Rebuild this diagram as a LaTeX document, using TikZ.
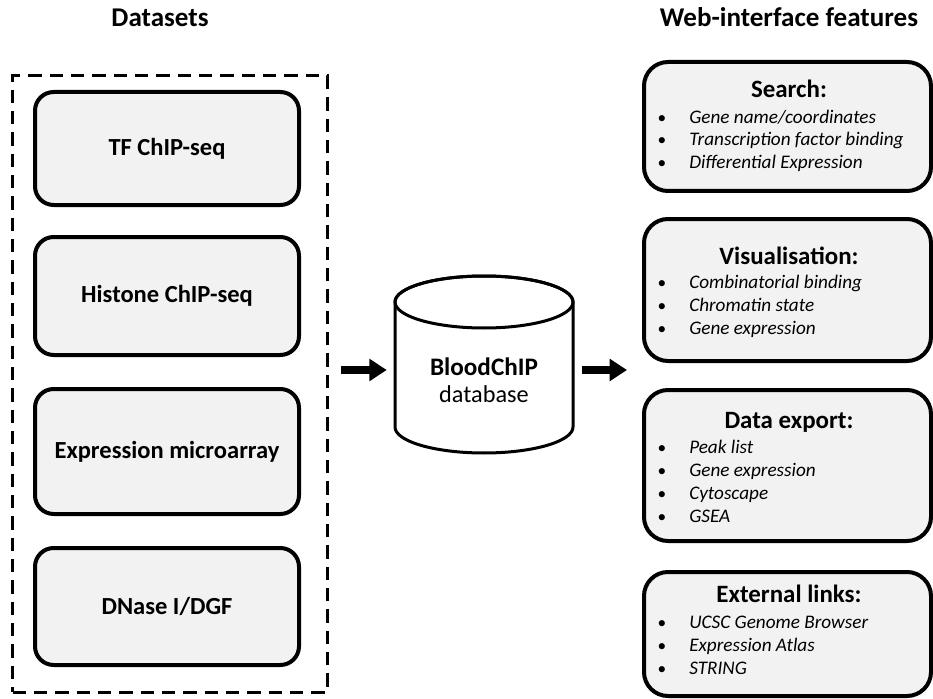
\documentclass[tikz,border=0pt]{standalone}
\usepackage{fontspec}
\setmainfont{Carlito}
\usetikzlibrary{arrows.meta}
\definecolor{boxgray}{HTML}{F2F2F2}
\begin{document}
\begin{tikzpicture}[x=0.75pt,y=-0.75pt,
  lbox/.style={draw=black,line width=3pt,fill=boxgray,rounded corners=14pt,inner sep=0pt,minimum width=198pt,font=\fontsize{18.4}{21}\selectfont\bfseries},
  rbox/.style={draw=black,line width=3pt,fill=boxgray,rounded corners=18pt,inner sep=0pt,minimum width=215.25pt},
  ttl/.style={anchor=base,inner sep=0pt,font=\fontsize{18.7}{21}\selectfont\bfseries},
  itm/.style={anchor=base west,inner sep=0pt,font=\fontsize{14.4}{16}\selectfont\itshape},
  bul/.style={anchor=base,inner sep=0pt,font=\fontsize{13}{16}\selectfont},
  hdr/.style={anchor=base,inner sep=0pt,font=\fontsize{20.3}{23}\selectfont\bfseries},
  cyl/.style={draw=black,line width=2.25pt},
  bigarrow/.style={line width=6pt,-{Triangle[length=13pt,width=16pt]}}
]
\useasboundingbox (0,0) rectangle (933,699);
\fill[white] (0,0) rectangle (933,699);

% headers
\node[hdr] (h1) at (160,27) {Datasets};
\node[hdr] (h2) at (789,27) {Web-interface features};

% datasets group
\node[draw=black,line width=2.25pt,dash pattern=on 10pt off 6pt,inner sep=0pt,
      minimum width=235.9pt,minimum height=462pt] (datasets) at (170,384) {};
\node[lbox,minimum height=84.75pt] (tf) at (167,148.5) {TF ChIP-seq};
\node[lbox,minimum height=88.5pt] (hist) at (167,296) {Histone ChIP-seq};
\node[lbox,minimum height=93.75pt] (expr) at (167,451.5) {Expression microarray};
\node[lbox,minimum height=87.75pt] (dnase) at (167,606.5) {DNase I/DGF};

% database cylinder
\draw[cyl,fill=white] (395,302) -- (395,427)
  arc[start angle=180,end angle=360,x radius=66.75pt,y radius=19.5pt]
  -- (573,302)
  arc[start angle=0,end angle=180,x radius=66.75pt,y radius=19.5pt] -- cycle;
\draw[cyl] (484,302) ellipse[x radius=66.75pt,y radius=19.5pt];
\node[minimum width=133.5pt,minimum height=60pt,inner sep=0pt] (db) at (484,370) {};
\node[anchor=base,inner sep=0pt,font=\fontsize{18.9}{21}\selectfont\bfseries] (dbt) at (484,375) {BloodChIP};
\node[anchor=base,inner sep=0pt,font=\fontsize{18.2}{21}\selectfont] (dbs) at (484,402) {database};

% feature boxes
\node[rbox,minimum height=96.75pt] (search) at (787.5,126.5) {};
\node[rbox,minimum height=106.5pt] (vis) at (787.5,290) {};
\node[rbox,minimum height=113.25pt] (export) at (787.5,465.5) {};
\node[rbox,minimum height=93pt] (links) at (787.5,634) {};

\node[ttl] (t1) at (789,98) {Search:};
\foreach \t [count=\i] in {Gene name/coordinates,Transcription factor binding,Differential Expression}{
  \node[bul] (sb\i) at (662,{123+23*(\i-1)}) {\textbullet};
  \node[itm] (si\i) at (689,{123+23*(\i-1)}) {\t};
}
\node[ttl] (t2) at (789,264) {Visualisation:};
\foreach \t [count=\i] in {Combinatorial binding,Chromatin state,Gene expression}{
  \node[bul] (vb\i) at (662,{288+23*(\i-1)}) {\textbullet};
  \node[itm] (vi\i) at (689,{288+23*(\i-1)}) {\t};
}
\node[ttl] (t3) at (789,428) {Data export:};
\foreach \t [count=\i] in {Peak list,Gene expression,Cytoscape,GSEA}{
  \node[bul] (eb\i) at (662,{453+23*(\i-1)}) {\textbullet};
  \node[itm] (ei\i) at (689,{453+23*(\i-1)}) {\t};
}
\node[ttl] (t4) at (789,602) {External links:};
\foreach \t [count=\i] in {UCSC Genome Browser,Expression Atlas,STRING}{
  \node[bul] (lb\i) at (662,{628+23*(\i-1)}) {\textbullet};
  \node[itm] (li\i) at (689,{628+23*(\i-1)}) {\t};
}

% arrows
\draw[bigarrow,shorten <=9pt,shorten >=6pt] (datasets.east |- db.center) -- (db.west);
\draw[bigarrow,shorten <=6.75pt,shorten >=11.25pt] (db.east) -- (vis.west |- db.center);
\end{tikzpicture}
\end{document}
